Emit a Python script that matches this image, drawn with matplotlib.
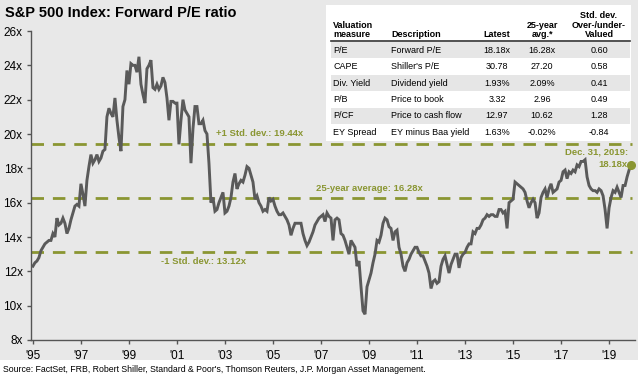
import numpy as np
import matplotlib.pyplot as plt
from matplotlib.patches import Rectangle

plt.rcParams["font.family"] = ["Liberation Sans", "DejaVu Sans"]

# monthly forward P/E, Jan 1995 - Dec 2019
pe = [
    12.3, 12.5, 12.6, 12.8, 13.2, 13.4, 13.6, 13.7, 13.8, 13.8, 14.2, 14.0,  # 1995
    15.1, 14.7, 14.8, 15.1, 14.8, 14.2, 14.5, 15.0, 15.4, 15.8, 15.9, 15.8,  # 1996
    17.1, 16.5, 15.8, 17.3, 18.1, 18.8, 18.3, 18.5, 18.8, 18.4, 18.6, 19.0,  # 1997
    19.1, 21.0, 21.5, 21.2, 21.0, 22.1, 20.8, 19.8, 19.0, 21.6, 22.0, 23.7,  # 1998
    22.9, 24.1, 24.0, 24.0, 23.6, 24.5, 22.9, 22.3, 21.8, 23.8, 24.0, 24.3,  # 1999
    22.7, 22.6, 22.9, 22.6, 22.8, 23.3, 23.0, 22.1, 20.8, 21.9, 21.9, 21.8,  # 2000
    21.8, 19.4, 20.8, 22.0, 21.4, 21.2, 21.0, 18.3, 20.3, 21.6, 21.6, 20.6,  # 2001
    20.6, 20.8, 20.2, 20.0, 18.3, 16.0, 16.3, 15.5, 15.6, 16.0, 16.3, 16.6,  # 2002
    15.4, 15.5, 15.8, 16.3, 17.2, 17.7, 16.8, 17.1, 17.3, 17.2, 17.6, 18.1,  # 2003
    18.0, 17.6, 17.2, 16.2, 16.4, 16.0, 15.8, 15.5, 15.6, 15.5, 16.3, 16.1,  # 2004
    16.2, 15.8, 15.5, 15.3, 15.3, 15.4, 15.2, 15.0, 14.7, 14.1, 14.5, 14.8,  # 2005
    14.8, 14.8, 14.8, 14.2, 13.8, 13.5, 13.7, 14.0, 14.3, 14.7, 14.9, 15.1,  # 2006
    15.2, 15.3, 14.9, 15.4, 15.2, 15.1, 13.8, 15.0, 15.1, 15.0, 14.2, 14.1,  # 2007
    13.8, 13.4, 13.0, 13.8, 13.6, 13.4, 12.3, 12.6, 11.1, 9.7, 9.5, 11.1,    # 2008
    11.5, 11.9, 12.5, 13.0, 13.8, 13.7, 14.1, 14.8, 15.1, 15.0, 14.6, 14.5,  # 2009
    13.8, 14.3, 14.4, 13.4, 13.0, 12.3, 12.0, 12.5, 12.7, 13.0, 13.2, 13.4,  # 2010
    13.4, 13.1, 12.9, 12.9, 12.6, 12.3, 11.9, 11.0, 11.4, 11.5, 11.3, 11.4,  # 2011
    12.3, 12.7, 12.9, 12.4, 11.9, 12.4, 12.7, 13.0, 13.0, 12.2, 12.8, 13.0,  # 2012
    13.1, 13.4, 13.6, 13.6, 14.3, 14.2, 14.5, 14.5, 14.7, 15.0, 15.1, 15.3,  # 2013
    15.2, 15.3, 15.3, 15.2, 15.2, 15.6, 15.6, 15.4, 15.5, 14.5, 16.0, 16.1,  # 2014
    16.2, 17.2, 17.1, 17.0, 16.9, 16.8, 16.6, 16.1, 15.7, 16.0, 16.2, 16.0,  # 2015
    15.1, 15.4, 16.3, 16.6, 16.8, 16.3, 16.8, 17.1, 16.6, 16.7, 16.8, 17.2,  # 2016
    17.3, 17.8, 17.9, 17.4, 17.8, 17.7, 17.9, 17.8, 18.2, 18.1, 18.4, 18.4,  # 2017
    18.5, 17.5, 17.0, 16.8, 16.7, 16.7, 16.6, 16.8, 16.7, 16.4, 15.6, 14.5,  # 2018
    15.7, 16.3, 16.7, 16.6, 16.9, 16.6, 16.3, 17.0, 17.0, 17.5, 17.9, 18.18, # 2019
]
dates = 1995 + np.arange(len(pe)) / 12

avg = 16.28
plus_sd = 19.44
minus_sd = 13.12

years = list(range(1995, 2020, 2))
year_labels = ["'%02d" % (y % 100) for y in years]
y_ticks = list(range(8, 27, 2))

table_header = ["Valuation\nmeasure", "Description", "Latest", "25-year\navg.*",
                "Std. dev.\nOver-/under-\nValued"]
measures = ["P/E", "CAPE", "Div. Yield", "P/B", "P/CF", "EY Spread"]
descriptions = ["Forward P/E", "Shiller's P/E", "Dividend yield", "Price to book",
                "Price to cash flow", "EY minus Baa yield"]
latest = ["18.18x", "30.78", "1.93%", "3.32", "12.97", "1.63%"]
avg_25y = ["16.28x", "27.20", "2.09%", "2.96", "10.62", "-0.02%"]
std_dev = ["0.60", "0.58", "0.41", "0.49", "1.28", "-0.84"]

olive = "#8a9632"
bg = "#e8e8e8"
W, H = 638, 376

fig = plt.figure(figsize=(W / 100, H / 100), dpi=100)
fig.patch.set_facecolor("white")
fig.add_artist(Rectangle((0, 1 - 360 / H), 1, 360 / H, transform=fig.transFigure,
                         facecolor=bg, edgecolor="none", zorder=0))

ax = fig.add_axes([31 / W, 1 - 340 / H, 604 / W, 309 / H])
ax.set_facecolor("none")
ax.set_xlim(1994.92, 2020.08)
ax.set_ylim(8, 26)
for s in ["top", "right"]:
    ax.spines[s].set_visible(False)
for s in ["left", "bottom"]:
    ax.spines[s].set_color("#555555")
    ax.spines[s].set_linewidth(1.0)
ax.set_yticks(y_ticks)
ax.set_yticklabels(["%dx" % v for v in y_ticks], fontsize=8.5)
ax.set_xticks(years)
ax.set_xticklabels(year_labels, fontsize=8.5)
ax.tick_params(axis="both", length=3, width=1, color="#555555", pad=3)
ax.tick_params(axis="x", pad=4)

for lvl in [plus_sd, avg, minus_sd]:
    ax.axhline(lvl, xmin=0, xmax=0.995, color=olive, lw=2, ls=(0, (4.5, 3.2)), zorder=1)

ax.plot(dates, pe, color="#5a5a5a", lw=2.1, zorder=3, solid_joinstyle="miter")
ax.plot(dates[-1], pe[-1], "o", color=olive, ms=5.5, zorder=4)

txt = dict(color=olive, fontsize=6.8, fontweight="bold")
ax.text(2004.45, plus_sd + 0.3, "+1 Std. dev.: %.2fx" % plus_sd, ha="center", va="bottom", **txt)
ax.text(2009.0, avg + 0.3, "25-year average: %.2fx" % avg, ha="center", va="bottom", **txt)
ax.text(2002.1, minus_sd - 0.3, "-1 Std. dev.: %.2fx" % minus_sd, ha="center", va="top", **txt)
ax.text(2019.8, 18.95, "Dec. 31, 2019:", ha="right", va="center", **txt)
ax.text(2019.75, 18.25, "%.2fx" % pe[-1], ha="right", va="center", **txt)

fig.text(5 / W, 1 - 13 / H, "S&P 500 Index: Forward P/E ratio", fontsize=10.5,
         fontweight="bold", ha="left", va="center")
fig.text(3 / W, 1 - 370 / H,
         "Source: FactSet, FRB, Robert Shiller, Standard & Poor's, Thomson Reuters, "
         "J.P. Morgan Asset Management.", fontsize=6.3, ha="left", va="center")

# valuation table
tx0, tx1 = 326, 631
ty0, hdr_h, row_h = 5, 36, 16.4
fig.add_artist(Rectangle((tx0 / W, 1 - (ty0 + hdr_h + 6 * row_h + 2) / H),
                         (tx1 - tx0) / W, (hdr_h + 6 * row_h + 2) / H,
                         transform=fig.transFigure, facecolor="white",
                         edgecolor="none", zorder=2))
col_x = [333, 391, 497, 542, 599]
col_ha = ["left", "left", "center", "center", "center"]
for i, h in enumerate(table_header):
    fig.text(col_x[i] / W, 1 - (ty0 + hdr_h - 2) / H, h, fontsize=6.5, fontweight="bold",
             ha=col_ha[i], va="bottom", multialignment="center" if i > 1 else "left",
             linespacing=1.05, zorder=3)
fig.add_artist(plt.Line2D([(tx0 + 5) / W, (tx1 - 1) / W],
                          [1 - (ty0 + hdr_h) / H] * 2, transform=fig.transFigure,
                          color="#333333", lw=1.2, zorder=3))
rows = list(zip(measures, descriptions, latest, avg_25y, std_dev))
for r, row in enumerate(rows):
    top = ty0 + hdr_h + 1 + r * row_h
    if r % 2 == 0:
        fig.add_artist(Rectangle(((tx0 + 5) / W, 1 - (top + row_h) / H),
                                 (tx1 - tx0 - 6) / W, row_h / H,
                                 transform=fig.transFigure, facecolor="#e6e6e6",
                                 edgecolor="none", zorder=2.5))
    for i, v in enumerate(row):
        fig.text(col_x[i] / W, 1 - (top + row_h / 2) / H, v, fontsize=6.5,
                 ha=col_ha[i], va="center", zorder=3)

fig.savefig("out.png", dpi=100, facecolor=fig.get_facecolor())
